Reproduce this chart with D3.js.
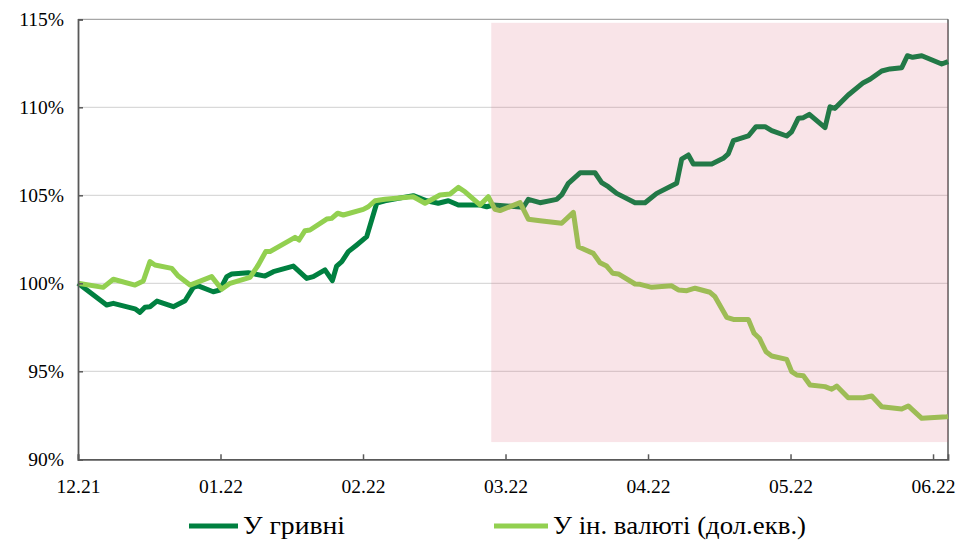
<!DOCTYPE html>
<html><head><meta charset="utf-8">
<script src="https://cdn.jsdelivr.net/npm/d3@7"></script>
<style>
body{margin:0;background:#fff}svg{display:block}
svg text{font-family:"Liberation Serif","Times New Roman",Tinos,"DejaVu Serif",serif !important;}
</style>
</head><body>
<svg id="c" width="962" height="540"></svg>
<script>
// x values: months since 12.21 (equal-width months)
const tickLabels = ["12.21","01.22","02.22","03.22","04.22","05.22","06.22"];
const tickPos = [0,1,2,3,4,5,6];
const yTicks = [90,95,100,105,110,115];
const seriesNames = ["У гривні","У ін. валюті (дол.екв.)"];
const seriesColors = ["#008040","#92d050"];

const hryvniaT = [0,0.201,0.248,0.400,0.435,0.470,0.505,0.554,0.669,0.751,0.809,0.844,0.949,0.996,1.044,1.079,1.195,1.312,1.371,1.511,1.605,1.651,1.733,1.785,1.815,1.851,1.897,1.956,2.026,2.096,2.154,2.353,2.447,2.528,2.599,2.669,2.821,2.868,2.914,3.125,3.160,3.242,3.359,3.394,3.441,3.523,3.628,3.675,3.721,3.780,3.909,3.979,4.061,4.201,4.236,4.283,4.318,4.447,4.528,4.563,4.599,4.704,4.758,4.821,4.868,4.973,5.008,5.055,5.090,5.132,5.242,5.277,5.312,5.405,5.511,5.558,5.640,5.698,5.780,5.820,5.857,5.921,6.061,6.105];
const hryvniaV = [100,98.77,98.86,98.55,98.35,98.64,98.67,98.99,98.67,99.01,99.77,99.85,99.52,99.62,100.38,100.53,100.60,100.41,100.66,100.98,100.28,100.38,100.76,100.15,100.98,101.23,101.80,102.18,102.65,104.55,104.69,104.98,104.69,104.55,104.69,104.45,104.45,104.35,104.45,104.32,104.77,104.58,104.77,105.02,105.68,106.28,106.28,105.72,105.49,105.11,104.58,104.58,105.11,105.68,107.05,107.29,106.78,106.78,107.10,107.35,108.10,108.37,108.90,108.90,108.67,108.37,108.61,109.38,109.41,109.60,108.84,110.03,109.94,110.70,111.40,111.59,112.06,112.18,112.25,112.93,112.84,112.93,112.46,112.59];

const fxT = [0,0.177,0.248,0.400,0.458,0.505,0.540,0.658,0.704,0.786,0.938,1.008,1.067,1.207,1.265,1.317,1.347,1.523,1.551,1.593,1.628,1.745,1.780,1.822,1.862,2.002,2.037,2.084,2.154,2.353,2.435,2.540,2.611,2.669,2.716,2.821,2.879,2.926,2.961,3.102,3.160,3.242,3.394,3.476,3.511,3.616,3.663,3.710,3.752,3.792,3.909,3.944,4.026,4.166,4.213,4.272,4.330,4.435,4.470,4.552,4.599,4.704,4.744,4.781,4.828,4.868,4.973,5.008,5.044,5.090,5.137,5.242,5.289,5.324,5.405,5.511,5.570,5.640,5.780,5.826,5.921,6.096,6.105];
const fxV = [100,99.77,100.23,99.90,100.13,101.23,101.04,100.85,100.41,99.90,100.38,99.66,100.0,100.34,101.04,101.80,101.80,102.61,102.46,102.99,103.03,103.65,103.69,103.98,103.88,104.20,104.35,104.69,104.77,104.92,104.55,105.02,105.07,105.45,105.20,104.45,104.92,104.20,104.13,104.58,103.64,103.56,103.41,104.03,102.08,101.70,101.17,100.98,100.57,100.53,99.96,99.94,99.77,99.86,99.62,99.58,99.72,99.49,99.24,98.07,97.95,97.95,97.16,96.88,96.11,95.87,95.68,94.98,94.79,94.75,94.22,94.13,93.98,94.16,93.50,93.50,93.60,92.99,92.86,93.03,92.33,92.42,92.43];

// shaded period (months since 12.21) and its value range
const periodT = [2.9, 6.105];
const periodV = [90.98, 114.8];

const svg = d3.select("#c");
const L = 78, R = 948, T = 19.3, B = 459.3;
const x = d3.scaleLinear().domain([0, 6.105]).range([L, R]);
const y = d3.scaleLinear().domain([90, 115]).range([B, T]);

// gridlines
svg.append("g").selectAll("line").data(yTicks.filter(v => v > 90)).join("line")
  .attr("x1", L).attr("x2", R).attr("y1", d => y(d)).attr("y2", d => y(d))
  .attr("stroke", d => d === 115 ? "#a6a6a6" : "#d9d9d9").attr("stroke-width", 1.2);

// right frame line
svg.append("line").attr("x1", R).attr("x2", R).attr("y1", T).attr("y2", B)
  .attr("stroke", "#595959").attr("stroke-width", 1.5);

// lines
const line = d3.line().x(d => x(d[0])).y(d => y(d[1]));
const series = [d3.zip(hryvniaT, hryvniaV), d3.zip(fxT, fxV)];
svg.append("g").selectAll("path").data(series).join("path")
  .attr("d", line).attr("fill", "none")
  .attr("stroke", (d, i) => seriesColors[i]).attr("stroke-width", 5)
  .attr("stroke-linejoin", "round").attr("stroke-linecap", "butt");

// shaded period overlay
svg.append("rect")
  .attr("x", x(periodT[0])).attr("width", x(periodT[1]) - x(periodT[0]))
  .attr("y", y(periodV[1])).attr("height", y(periodV[0]) - y(periodV[1]))
  .attr("fill", "rgb(217,87,112)").attr("fill-opacity", 0.16);

// axes
const yAxis = svg.append("g").attr("transform", `translate(${L},0)`)
  .call(d3.axisLeft(y).tickValues(yTicks).tickSize(-5).tickFormat(d => d + "%").tickPadding(14));
const xAxis = svg.append("g").attr("transform", `translate(0,${B})`)
  .call(d3.axisBottom(x).tickValues(tickPos).tickSize(-5).tickFormat((d, i) => tickLabels[i]).tickPadding(20));
[yAxis, xAxis].forEach(a => {
  a.attr("font-family", null);
  a.select(".domain").attr("stroke", "#595959").attr("stroke-width", 1.8);
  a.selectAll(".tick line").attr("stroke", "#595959").attr("stroke-width", 1.5);
  a.selectAll("text").attr("font-size", 19.5).attr("fill", "#000");
});

// legend
const leg = [{x0: 189, x1: 238}, {x0: 494, x1: 548}];
leg.forEach((p, i) => {
  svg.append("line").attr("x1", p.x0).attr("x2", p.x1).attr("y1", 526).attr("y2", 526)
    .attr("stroke", seriesColors[i]).attr("stroke-width", 5);
  svg.append("text").attr("x", p.x1 + 5).attr("y", 534).text(seriesNames[i])
    .attr("font-size", 26).attr("fill", "#000")
    .attr("textLength", i === 0 ? 102 : 253).attr("lengthAdjust", "spacingAndGlyphs");
});
</script>
</body></html>
